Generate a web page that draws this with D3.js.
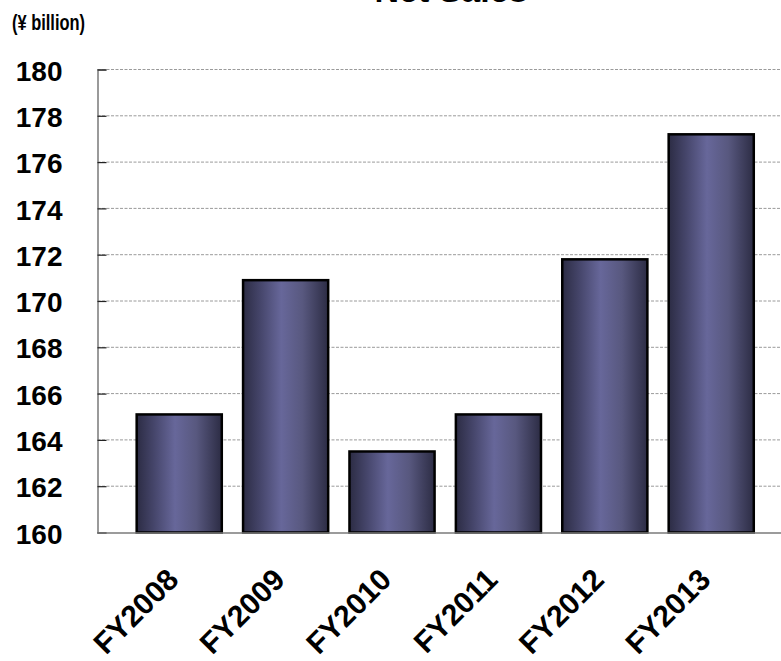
<!DOCTYPE html>
<html>
<head>
<meta charset="utf-8">
<script src="https://cdn.jsdelivr.net/npm/d3@7/dist/d3.min.js"></script>
<style>
html,body{margin:0;padding:0;background:#fff;}
svg{display:block;}
</style>
</head>
<body>
<svg id="chart" width="781" height="661"></svg>
<script>
const categories = ["FY2008","FY2009","FY2010","FY2011","FY2012","FY2013"];
const salesValues = [165.1, 170.9, 163.5, 165.1, 171.8, 177.2];
const yTicks = [160,162,164,166,168,170,172,174,176,178,180];
const titleText = "Net Sales";
const unitText = "(¥ billion)";

(function(){
const svg = d3.select("#chart");
const mLeft = 97.5, mRight = 781, mTop = 69.5, mBottom = 532.5;

const x = d3.scaleBand().domain(categories).range([mLeft, mRight])
  .paddingInner(0.2).paddingOuter(0.312).align(0.59);
const y = d3.scaleLinear().domain([160, 180]).range([mBottom, mTop]);

const defs = svg.append("defs");
const grad = defs.append("linearGradient").attr("id","barGrad")
  .attr("x1","0%").attr("x2","100%").attr("y1","0%").attr("y2","0%");
grad.append("stop").attr("offset","0%").attr("stop-color","#2c2c44");
grad.append("stop").attr("offset","20%").attr("stop-color","#45456a");
grad.append("stop").attr("offset","45%").attr("stop-color","#67679a");
grad.append("stop").attr("offset","70%").attr("stop-color","#58587f");
grad.append("stop").attr("offset","100%").attr("stop-color","#2c2c44");

// title (cut off at the top edge, as in the reference)
svg.append("text").attr("x", 451).attr("y", 2)
  .attr("text-anchor","middle")
  .style("font-family","'Liberation Sans', Arial, sans-serif")
  .style("font-weight","bold").style("font-size","34px").style("fill","#000")
  .text(titleText);

svg.append("text").attr("x", 12).attr("y", 30)
  .attr("textLength", 73).attr("lengthAdjust","spacingAndGlyphs")
  .style("font-family","'Liberation Sans', Arial, sans-serif")
  .style("font-weight","bold").style("font-size","22px").style("fill","#000")
  .text(unitText);

// gridlines
svg.append("g").selectAll("line").data(yTicks.filter(d => d !== 160)).join("line")
  .attr("x1", mLeft).attr("x2", mRight)
  .attr("y1", d => y(d)).attr("y2", d => y(d))
  .attr("stroke","#9a9a9a").attr("stroke-width",1)
  .attr("stroke-dasharray","3,1.5");

// y axis
const yAxis = d3.axisLeft(y).tickValues(yTicks).tickSize(-9).tickPadding(35).tickFormat(d3.format("d"));
const gy = svg.append("g").attr("transform", `translate(${mLeft},0)`).call(yAxis);
gy.select(".domain").attr("stroke","#7a7a7a").attr("stroke-width",1.5);
gy.selectAll(".tick line").attr("stroke","#222").attr("stroke-width",1.2);
gy.selectAll(".tick text")
  .style("font-family","'Liberation Sans', Arial, sans-serif")
  .style("font-weight","bold").style("font-size","28px").style("fill","#000")
  .attr("dy","0.38em");

// bars
svg.append("g").selectAll("rect").data(categories).join("rect")
  .attr("x", d => x(d))
  .attr("y", (d,i) => y(salesValues[i]))
  .attr("width", x.bandwidth())
  .attr("height", (d,i) => y(160) - y(salesValues[i]))
  .attr("fill","url(#barGrad)")
  .attr("stroke","#000").attr("stroke-width",2.5);

// x axis
const xAxis = d3.axisBottom(x).tickSize(0).tickPadding(0);
const gx = svg.append("g").attr("transform", `translate(0,${mBottom})`).call(xAxis);
gx.select(".domain").attr("stroke","#7a7a7a").attr("stroke-width",1.5);
gx.selectAll(".tick text")
  .style("font-family","'Liberation Sans', Arial, sans-serif")
  .style("font-weight","bold").style("font-size","30px").style("fill","#000")
  .attr("text-anchor","end")
  .attr("dy", 0)
  .attr("transform","translate(1,49) rotate(-45)");
})();
</script>
</body>
</html>
